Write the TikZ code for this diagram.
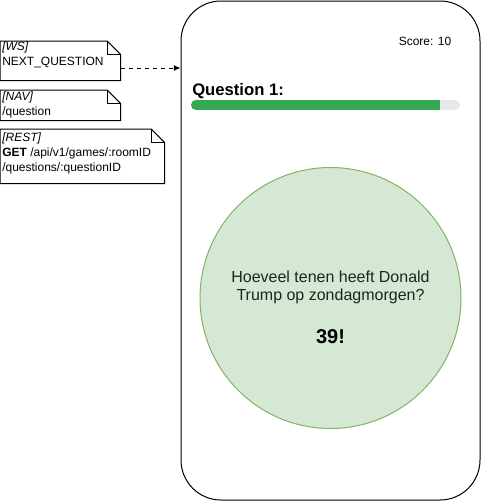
\documentclass[tikz,border=0pt]{standalone}
\usepackage{fontspec}
\setmainfont{Liberation Sans}
\usetikzlibrary{arrows.meta}
\definecolor{barGreen}{HTML}{34A853}
\definecolor{barGray}{HTML}{E6E9EC}
\definecolor{circFill}{HTML}{D5E8D4}
\definecolor{circLine}{HTML}{82B366}
\definecolor{txtDark}{HTML}{222222}
\tikzset{
  px/.style={x=0.75pt,y=-0.75pt},
  notebox/.style={anchor=north west, inner sep=0pt, minimum width=90pt},
  noteline/.style={anchor=base west, inner sep=0pt, font=\fontsize{9pt}{11pt}\selectfont},
  outline/.style={draw=black, line width=0.75pt},
  phonebox/.style={draw=black, line width=0.75pt, rounded corners=30pt, inner sep=0pt,
    minimum width=224.25pt, minimum height=374.25pt},
  qline/.style={anchor=base, inner sep=0pt, text=txtDark, font=\fontsize{12pt}{14pt}\selectfont},
}
\newcommand{\notefold}[2]{%
  \draw[outline] (#1.north west) -- ([xshift=-#2]#1.north east) -- ([yshift=-#2]#1.north east)
     -- (#1.south east) -- (#1.south west) -- cycle;
  \draw[outline] ([xshift=-#2]#1.north east) -- ([xshift=-#2,yshift=-#2]#1.north east)
     -- ([yshift=-#2]#1.north east);
}
\begin{document}
\begin{tikzpicture}[px]
\useasboundingbox (0,0) rectangle (481,501);
% phone
\node[phonebox] (phone) at (330.5,250.5) {};
% notes
\node[notebox, minimum height=29.25pt] (ws) at (0,41) {};
\node[notebox, minimum height=22.5pt] (nav) at (0,90) {};
\node[notebox, minimum height=40.5pt, minimum width=123pt] (rest) at (0,129) {};
\notefold{ws}{10pt}
\notefold{nav}{10pt}
\notefold{rest}{10pt}
\node[noteline] (ws1) at (2,50) {\itshape [WS]};
\node[noteline] (ws2) at (2,65) {NEXT\_QUESTION};
\node[noteline] (nav1) at (2,100) {\itshape [NAV]};
\node[noteline] (nav2) at (2,115) {/question};
\node[noteline] (rest1) at (2,141) {\itshape [REST]};
\node[noteline] (rest2) at (2,156) {\textbf{GET} /api/v1/games/:roomID};
\node[noteline] (rest3) at (2,171) {/questions/:questionID};
% arrow
\coordinate (arr) at (120,68);
\draw[line width=0.75pt, dashed, -{Latex[length=5pt,width=4.5pt]}] (ws.east |- arr) -- (phone.west |- arr);
% score
\node[anchor=base, inner sep=0pt, font=\fontsize{9pt}{11pt}\selectfont] (score) at (425,45) {Score: 10};
% question title
\node[anchor=base west, inner sep=0pt, font=\fontsize{12.5pt}{14pt}\selectfont\bfseries] (qtitle) at (192,95) {Question 1:};
% progress bar
\fill[barGray, rounded corners=3.75pt] (191,100) rectangle (460,110);
\begin{scope}
  \clip[rounded corners=3.75pt] (191,100) rectangle (460,110);
  \fill[barGreen] (191,100) rectangle (440,110);
\end{scope}
% circle
\node[circle, draw=circLine, fill=circFill, line width=0.75pt, minimum size=195.75pt, inner sep=0pt] (bubble) at (330.5,298) {};
\node[qline] (q1) at (330.5,282) {Hoeveel tenen heeft Donald};
\node[qline] (q2) at (330.5,300) {Trump op zondagmorgen?};
\node[anchor=base, inner sep=0pt, font=\fontsize{15pt}{17pt}\selectfont\bfseries] (ans) at (330.5,343) {39!};
\end{tikzpicture}
\end{document}
